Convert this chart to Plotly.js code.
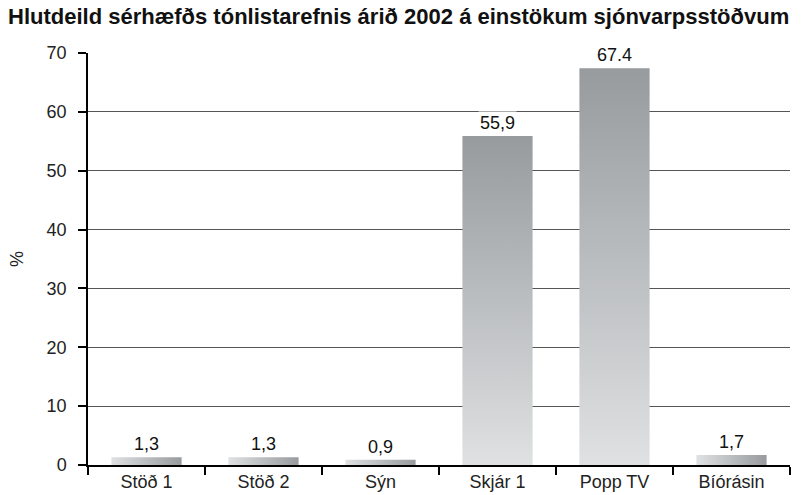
<!DOCTYPE html>
<html>
<head>
<meta charset="utf-8">
<script src="https://cdn.plot.ly/plotly-3.0.1.min.js"></script>
<style>
  html, body { margin: 0; padding: 0; background: #fff; }
  #chart { width: 802px; height: 495px; }
</style>
</head>
<body>
<div id="chart"></div>
<script>
const stations = ['Stöð 1', 'Stöð 2', 'Sýn', 'Skjár 1', 'Popp TV', 'Bíórásin'];
const shares = [1.3, 1.3, 0.9, 55.9, 67.4, 1.7];
const shareLabels = ['1,3', '1,3', '0,9', '55,9', '67.4', '1,7'];
const yTicks = [0, 10, 20, 30, 40, 50, 60, 70];

const font = 'Liberation Sans, Arial, Helvetica, sans-serif';

const bars = {
    x: stations,
    y: shares,
    type: 'bar',
    marker: {color: '#b4b7ba', line: {width: 0}},
    hoverinfo: 'x+y'
};

const labels = stations.map(function(s, i) {
    return {
        x: s,
        y: shares[i],
        xref: 'x',
        yref: 'y',
        text: shareLabels[i],
        showarrow: false,
        yanchor: 'bottom',
        yshift: 1,
        bgcolor: '#ffffff',
        borderpad: 1,
        font: {family: font, size: 18, color: '#111'}
    };
});

const layout = {
    width: 802,
    height: 495,
    margin: {l: 88, r: 12, t: 53, b: 30},
    paper_bgcolor: '#ffffff',
    plot_bgcolor: '#ffffff',
    bargap: 0.4,
    showlegend: false,
    title: {
        text: '<b>Hlutdeild sérhæfðs tónlistarefnis árið 2002 á einstökum sjónvarpsstöðvum</b>',
        x: 0.01,
        xanchor: 'left',
        y: 0.968,
        yanchor: 'middle',
        font: {family: font, size: 22, color: '#111'}
    },
    xaxis: {
        type: 'category',
        showline: true,
        linecolor: '#000',
        linewidth: 1.5,
        ticks: 'outside',
        tickson: 'boundaries',
        ticklen: 8,
        tickwidth: 1.5,
        tickcolor: '#000',
        showgrid: false,
        tickfont: {family: font, size: 18, color: '#222'},
        automargin: false
    },
    yaxis: {
        range: [0, 70],
        tickvals: yTicks,
        showline: true,
        linecolor: '#000',
        linewidth: 1.5,
        ticks: 'outside',
        ticklen: 8,
        tickwidth: 1.5,
        tickcolor: '#000',
        showgrid: true,
        gridcolor: '#555',
        gridwidth: 1,
        zeroline: false,
        tickfont: {family: font, size: 18, color: '#222'},
        ticklabelstandoff: 8,
        title: {text: '%', standoff: 18, font: {family: font, size: 18, color: '#222'}},
        automargin: false
    },
    annotations: labels
};

Plotly.newPlot('chart', [bars], layout, {displayModeBar: false, responsive: false}).then(function(gd) {
    // grey gradient fill like the original artwork
    const svg = gd.querySelector('svg.main-svg');
    const defs = svg.querySelector('defs');
    const ns = 'http://www.w3.org/2000/svg';
    function makeGrad(id, x1, y1, x2, y2) {
        const g = document.createElementNS(ns, 'linearGradient');
        g.setAttribute('id', id);
        g.setAttribute('x1', x1); g.setAttribute('y1', y1);
        g.setAttribute('x2', x2); g.setAttribute('y2', y2);
        [['0', '#dfe1e2'], ['1', '#979b9e']].forEach(function(s) {
            const stop = document.createElementNS(ns, 'stop');
            stop.setAttribute('offset', s[0]);
            stop.setAttribute('stop-color', s[1]);
            g.appendChild(stop);
        });
        defs.appendChild(g);
    }
    makeGrad('gradV', 0, 1, 0, 0);
    makeGrad('gradH', 0, 0, 1, 0);
    gd.querySelectorAll('.bars .point path').forEach(function(p) {
        const b = p.getBBox();
        p.style.fill = b.height > b.width ? 'url(#gradV)' : 'url(#gradH)';
    });
});
</script>
</body>
</html>
